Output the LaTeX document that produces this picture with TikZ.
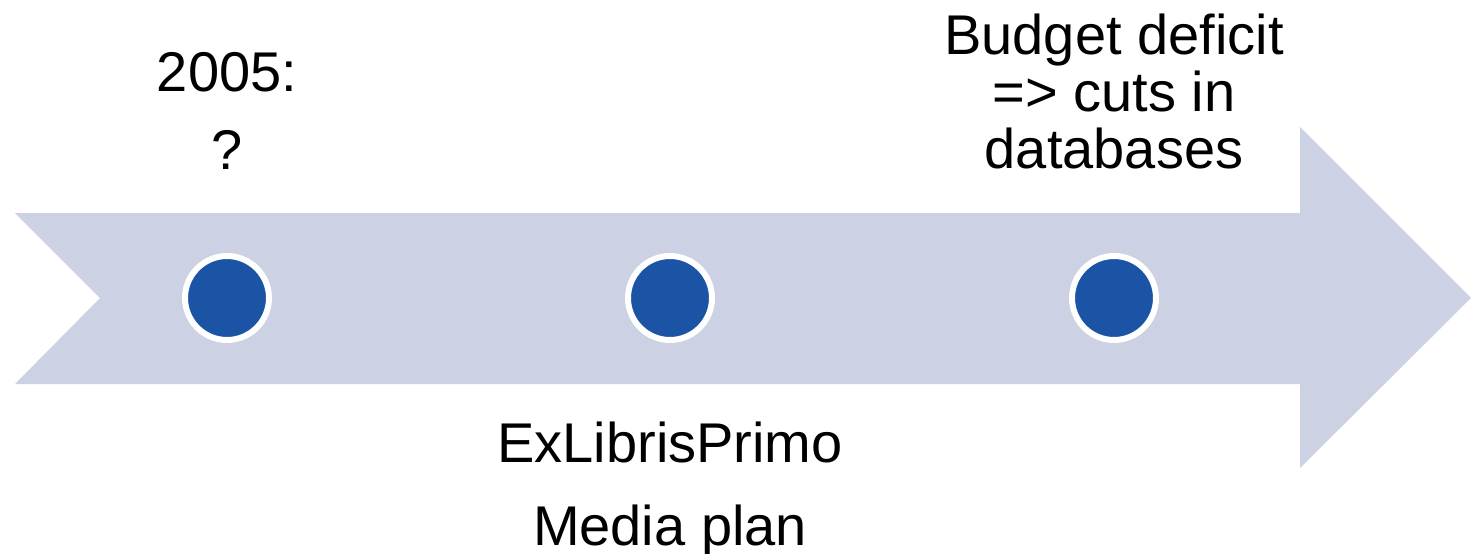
\documentclass[tikz,border=0pt]{standalone}
\usepackage{fontspec}
\setmainfont{Liberation Sans}

\definecolor{band}{HTML}{CCD2E3}
\definecolor{dotblue}{HTML}{1C54A5}

\tikzset{
  milestone/.style={circle, fill=dotblue, draw=white, line width=3pt,
                    minimum size=42pt, inner sep=0pt},
  caption/.style={align=center, inner sep=0pt,
                  font=\fontsize{28}{28.5}\selectfont}
}

\begin{document}
\begin{tikzpicture}[x=0.5pt, y=-0.5pt]
                \useasboundingbox (0,0) rectangle (1474,553);

                % the time band with its notched tail
                \fill[band] (15,213) -- (1300,213) -- (1300,127) -- (1471,298)
                            -- (1300,468) -- (1300,384) -- (15,384) -- (100,298) -- cycle;

                \node[milestone] (m1) at (227,298) {};
                \node[milestone] (m2) at (670,298) {};
                \node[milestone] (m3) at (1114,298) {};

                % base sits on the last line of each caption
                \node[caption, anchor=base] (c1) at (227,169) {2005:\\[10.5pt]?};
                \node[caption, anchor=base] (c2) at (670,545) {ExLibrisPrimo\\[13pt]Media plan};
                \node[caption, anchor=base] (c3) at (1114,168) {Budget deficit\\=> cuts in\\databases};

            \end{tikzpicture}
\end{document}
